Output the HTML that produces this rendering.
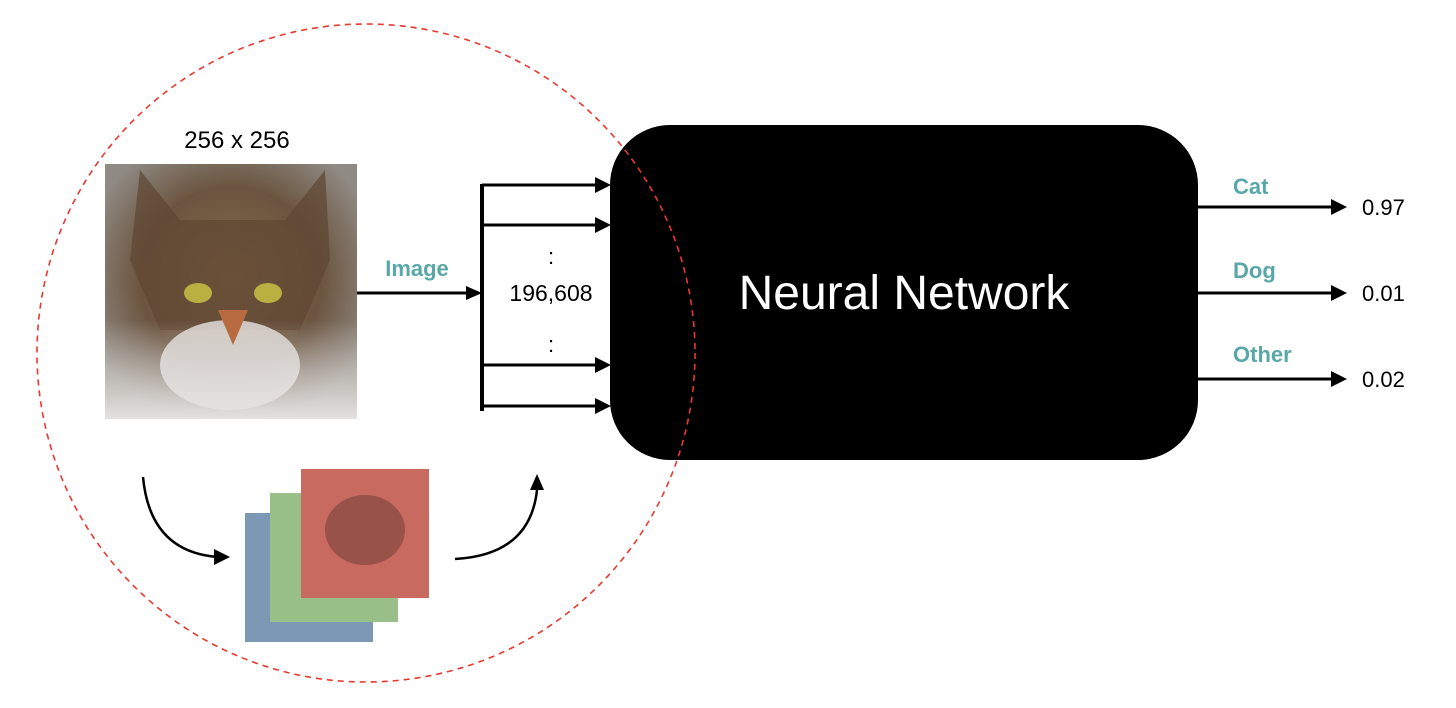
<!DOCTYPE html>
<html><head><style>body{margin:0;background:#fff}svg{display:block}text{font-family:"Liberation Sans",sans-serif}</style></head><body>
<svg width="1456" height="708" viewBox="0 0 1456 708">
<defs>
<radialGradient id="cat" cx="50%" cy="45%" r="60%"><stop offset="0" stop-color="#8a6a4a"/><stop offset="0.6" stop-color="#6b5540"/><stop offset="1" stop-color="#8f8a84"/></radialGradient>
<linearGradient id="chest" x1="0" y1="0" x2="0" y2="1"><stop offset="0" stop-color="#d8d4d0" stop-opacity="0"/><stop offset="1" stop-color="#e4e2e0"/></linearGradient>
</defs>
<rect x="610" y="125" width="588" height="335" rx="60" fill="#000"/>
<text x="904" y="309" font-size="48" fill="#fff" text-anchor="middle">Neural Network</text>
<circle cx="366" cy="353" r="329" fill="none" stroke="#e8392f" stroke-width="1.6" stroke-dasharray="6,5"/>
<text x="237" y="148" font-size="24" text-anchor="middle">256 x 256</text>
<rect x="105" y="164" width="252" height="255" fill="url(#cat)"/>
<path d="M140 170 L180 220 L285 220 L325 170 L330 260 L300 330 L160 330 L130 260Z" fill="#5e4632" opacity="0.7"/>
<rect x="105" y="320" width="252" height="99" fill="url(#chest)"/>
<ellipse cx="230" cy="365" rx="70" ry="45" fill="#e6e4e2" opacity="0.8"/>
<ellipse cx="198" cy="293" rx="14" ry="10" fill="#b8b040"/><ellipse cx="268" cy="293" rx="14" ry="10" fill="#b8b040"/>
<path d="M218 310 L248 310 L233 345Z" fill="#b86a40"/>
<line x1="357" y1="293" x2="468" y2="293" stroke="#000" stroke-width="3"/>
<polygon points="482,293 466,286 466,300"/>
<text x="417" y="276" font-size="22" font-weight="bold" fill="#5aa7a7" text-anchor="middle">Image</text>
<line x1="482" y1="184" x2="482" y2="411" stroke="#000" stroke-width="4"/>
<g stroke="#000" stroke-width="3">
<line x1="482" y1="185" x2="596" y2="185"/><line x1="482" y1="225" x2="596" y2="225"/>
<line x1="482" y1="365" x2="596" y2="365"/><line x1="482" y1="406" x2="596" y2="406"/></g>
<polygon points="611,185 595,177 595,193"/><polygon points="611,225 595,217 595,233"/>
<polygon points="611,365 595,357 595,373"/><polygon points="611,406 595,398 595,414"/>
<text x="551" y="264" font-size="22" text-anchor="middle">:</text>
<text x="551" y="301" font-size="23" text-anchor="middle">196,608</text>
<text x="551" y="352" font-size="22" text-anchor="middle">:</text>
<rect x="245" y="513" width="128" height="129" fill="#7b98b4"/>
<rect x="270" y="493" width="128" height="129" fill="#98c088"/>
<rect x="301" y="469" width="128" height="129" fill="#c86a60"/>
<ellipse cx="365" cy="530" rx="40" ry="35" fill="#6a3a34" opacity="0.5"/>
<path d="M143 477 Q150 552 218 557" fill="none" stroke="#000" stroke-width="2.5"/>
<polygon points="230,557 214,549 214,565"/>
<path d="M455 559 Q530 555 537 490" fill="none" stroke="#000" stroke-width="2.5"/>
<polygon points="537,474 530,490 544,490"/>
<g stroke="#000" stroke-width="3"><line x1="1198" y1="207" x2="1332" y2="207"/><line x1="1198" y1="293" x2="1332" y2="293"/><line x1="1198" y1="379" x2="1332" y2="379"/></g>
<polygon points="1347,207 1331,199 1331,215"/><polygon points="1347,293 1331,285 1331,301"/><polygon points="1347,379 1331,371 1331,387"/>
<g font-size="22" font-weight="bold" fill="#5aa7a7"><text x="1233" y="194">Cat</text><text x="1233" y="278">Dog</text><text x="1233" y="362">Other</text></g>
<g font-size="22"><text x="1362" y="215">0.97</text><text x="1362" y="301">0.01</text><text x="1362" y="387">0.02</text></g>
</svg></body></html>
